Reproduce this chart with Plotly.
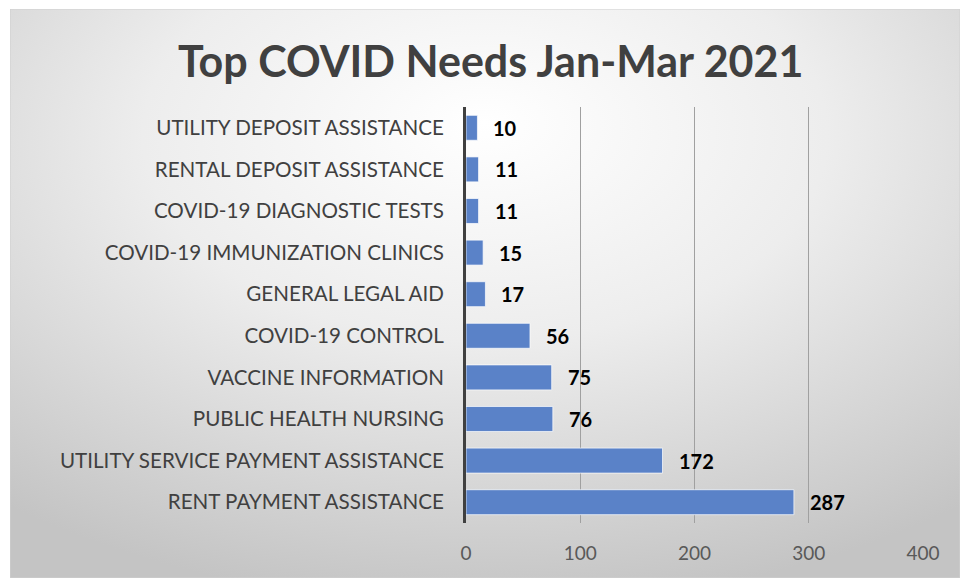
import plotly.graph_objects as go

categories = [
    "UTILITY DEPOSIT ASSISTANCE",
    "RENTAL DEPOSIT ASSISTANCE",
    "COVID-19 DIAGNOSTIC TESTS",
    "COVID-19 IMMUNIZATION CLINICS",
    "GENERAL LEGAL AID",
    "COVID-19 CONTROL",
    "VACCINE INFORMATION",
    "PUBLIC HEALTH NURSING",
    "UTILITY SERVICE PAYMENT ASSISTANCE",
    "RENT PAYMENT ASSISTANCE",
]
values = [10, 11, 11, 15, 17, 56, 75, 76, 172, 287]
x_ticks = [0, 100, 200, 300, 400]
title_text = "Top COVID Needs Jan-Mar 2021"

W, H = 960, 581
ML, MR, MT, MB = 466, 37, 107, 58
pw, ph = W - ML - MR, H - MT - MB

FONT = "Lato, Carlito, Calibri, sans-serif"

fig = go.Figure()
fig.add_trace(go.Bar(
    x=values, y=categories, orientation="h",
    marker=dict(color="#5a82c8", line=dict(color="rgba(255,255,255,0.7)", width=1)),
    hoverinfo="skip",
))

for v, c in zip(values, categories):
    fig.add_annotation(
        x=v, y=c, xref="x", yref="y", text=f"<b>{v}</b>", showarrow=False,
        xanchor="left", yanchor="middle", xshift=14, yshift=0,
        font=dict(family=FONT, size=20, color="#000000"),
    )

fig.add_annotation(
    x=(490 - ML) / pw, y=(H - MB - 60) / ph, xref="paper", yref="paper",
    text="<b>" + title_text + "</b>",
    showarrow=False, xanchor="center", yanchor="middle",
    font=dict(family=FONT, size=43, color="#404040"),
)

svg = (
    "data:image/svg+xml;utf8,"
    "<svg xmlns='http://www.w3.org/2000/svg' width='950' height='569' preserveAspectRatio='none'>"
    "<defs><radialGradient id='g' cx='50%' cy='25%' r='80%' fx='50%' fy='20%'>"
    "<stop offset='0%' stop-color='%23ffffff'/>"
    "<stop offset='45%' stop-color='%23ededed'/>"
    "<stop offset='100%' stop-color='%23c4c4c4'/>"
    "</radialGradient></defs>"
    "<rect width='950' height='569' fill='url(%23g)' stroke='%23d0d0d0' stroke-width='1'/></svg>"
)
px0, py0, px1, py1 = 10, 9, 960, 578
fig.add_layout_image(
    source=svg, xref="paper", yref="paper",
    x=(px0 - ML) / pw, y=(H - MB - py0) / ph,
    sizex=(px1 - px0) / pw, sizey=(py1 - py0) / ph,
    xanchor="left", yanchor="top", sizing="stretch", layer="below",
)

fig.update_layout(
    width=W, height=H,
    margin=dict(l=ML, r=MR, t=MT, b=MB),
    paper_bgcolor="white", plot_bgcolor="rgba(0,0,0,0)",
    showlegend=False, bargap=0.4,
    font=dict(family=FONT),
    xaxis=dict(
        range=[0, 400], tickvals=x_ticks, showgrid=True, gridcolor="#a0a0a0", gridwidth=1,
        zeroline=False, showline=False, ticks="", ticklabelstandoff=17,
        tickfont=dict(family=FONT, size=19, color="#595959"), fixedrange=True,
    ),
    yaxis=dict(
        autorange="reversed", showgrid=False, zeroline=False,
        showline=True, linecolor="#404040", linewidth=3, ticks="", ticklabelstandoff=15,
        tickfont=dict(family=FONT, size=20.6, color="#404040"), fixedrange=True,
    ),
)

fig.write_html("out.html")
